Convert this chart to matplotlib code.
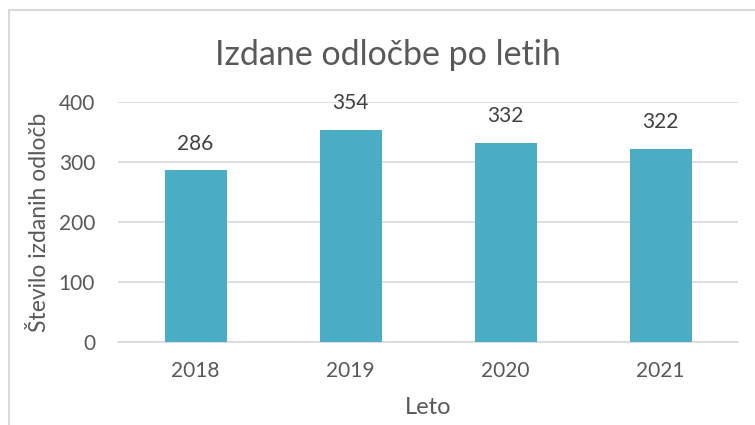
import matplotlib
matplotlib.use("Agg")
import matplotlib.pyplot as plt
from matplotlib.patches import Rectangle

years = ["2018", "2019", "2020", "2021"]
values = [286, 354, 332, 322]
yticks = [0, 100, 200, 300, 400]

plt.rcParams['font.family'] = ['Lato', 'DejaVu Sans']

W, H = 755, 425
fig = plt.figure(figsize=(W / 100, H / 100), dpi=100)
ax = fig.add_axes([118 / W, 1 - 342 / H, (738 - 118) / W, (342 - 102) / H])

x = list(range(len(years)))
bars = ax.bar(x, values, width=0.4, color="#4BACC6", zorder=3)
for xi, v in zip(x, values):
    ax.annotate(str(v), (xi, v), xytext=(0, 19), textcoords="offset points",
                ha="center", va="center", fontsize=15, color="#404040", zorder=5)

ax.set_xlim(-0.5, len(years) - 0.5)
ax.set_ylim(0, 400)
ax.set_yticks(yticks)
ax.set_xticks(x)
ax.set_xticklabels(years)
ax.yaxis.grid(True, color="#D9D9D9", linewidth=1.2, zorder=0)
ax.set_axisbelow(True)
for s in ["top", "right", "left"]:
    ax.spines[s].set_visible(False)
ax.spines["bottom"].set_color("#D9D9D9")
ax.spines["bottom"].set_linewidth(1.2)
ax.tick_params(axis="both", length=0, labelsize=15, labelcolor="#595959")
ax.tick_params(axis="y", pad=16.5)
ax.tick_params(axis="x", pad=14)

ax.set_xlabel("Leto", fontsize=17, color="#595959", labelpad=11)
ax.set_ylabel("Število izdanih odločb", fontsize=16.5, color="#595959", labelpad=6)

fig.text(388 / W, 1 - 55 / H, "Izdane odločbe po letih", ha="center", va="center",
         fontsize=24.5, color="#595959")

fig.patches.append(Rectangle((9 / W, -0.1), 1.2, 1 - 10 / H + 0.1, transform=fig.transFigure,
                             fill=False, edgecolor="#D9D9D9", linewidth=1.5))

fig.savefig("out.png", dpi=100)
